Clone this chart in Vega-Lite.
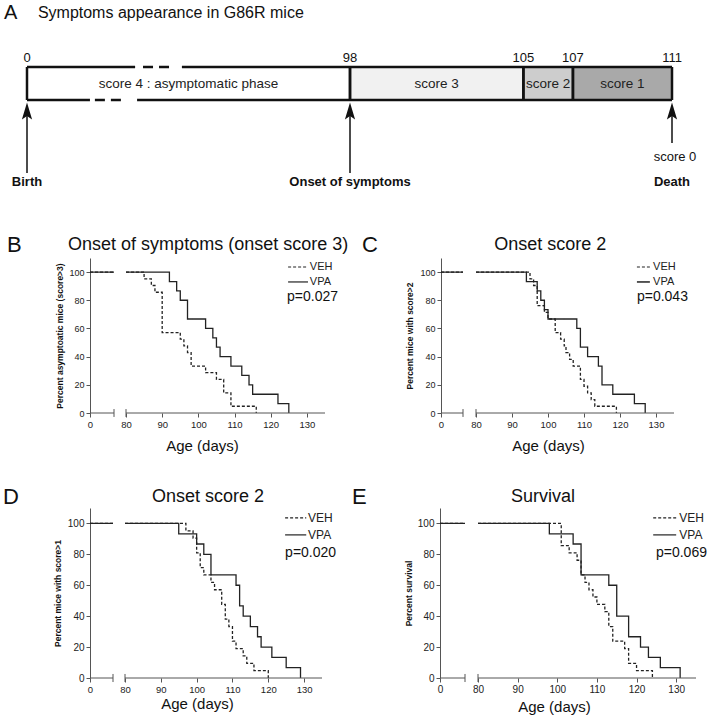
{
"$schema": "https://vega.github.io/schema/vega-lite/v6.json",
"width": 710, "height": 719,
"autosize": {"type": "none"},
"padding": 0,
"background": "white",
"config": {"font": "Liberation Sans", "view": {"stroke": null}},
"datasets": {
"phases": [
{"phase": "score 4 : asymptomatic phase", "start": 0, "end": 98},
{"phase": "score 3", "start": 98, "end": 105},
{"phase": "score 2", "start": 105, "end": 107},
{"phase": "score 1", "start": 107, "end": 111}
],
"borders": [
{"edge": "top", "part": "solid", "from": 0, "to": 32.8},
{"edge": "top", "part": "break", "from": 35.2, "to": 44},
{"edge": "top", "part": "solid", "from": 47, "to": 111},
{"edge": "bottom", "part": "solid", "from": 0, "to": 19.1},
{"edge": "bottom", "part": "break", "from": 20.6, "to": 28.8},
{"edge": "bottom", "part": "solid", "from": 33.4, "to": 111}
],
"stages": [{"day": 0}, {"day": 98}, {"day": 105}, {"day": 107}, {"day": 111}],
"milestones": [
{"day": 0, "event": "Birth"},
{"day": 98, "event": "Onset of symptoms"},
{"day": 111, "event": "Death"}
],
"axisparts": [{"from": 0, "to": 70}, {"from": 80, "to": 135}],
"breaks": [{"day": 70}, {"day": 80}],
"curves": [
{"panel":"B","group":"VEH","seg":"a","day":0,"pct":100},{"panel":"B","group":"VEH","seg":"a","day":70,"pct":100},
{"panel":"B","group":"VPA","seg":"a","day":0,"pct":100},{"panel":"B","group":"VPA","seg":"a","day":70,"pct":100},
{"panel":"B","group":"VEH","seg":"b","day":80,"pct":100},{"panel":"B","group":"VEH","seg":"b","day":85,"pct":95.2},{"panel":"B","group":"VEH","seg":"b","day":87,"pct":90.5},{"panel":"B","group":"VEH","seg":"b","day":88,"pct":85.7},{"panel":"B","group":"VEH","seg":"b","day":90,"pct":57.1},{"panel":"B","group":"VEH","seg":"b","day":95,"pct":52.4},{"panel":"B","group":"VEH","seg":"b","day":96,"pct":47.6},{"panel":"B","group":"VEH","seg":"b","day":97,"pct":42.9},{"panel":"B","group":"VEH","seg":"b","day":98,"pct":33.3},{"panel":"B","group":"VEH","seg":"b","day":102,"pct":28.6},{"panel":"B","group":"VEH","seg":"b","day":105,"pct":23.8},{"panel":"B","group":"VEH","seg":"b","day":107,"pct":14.3},{"panel":"B","group":"VEH","seg":"b","day":109,"pct":4.8},{"panel":"B","group":"VEH","seg":"b","day":116,"pct":0},
{"panel":"B","group":"VPA","seg":"b","day":80,"pct":100},{"panel":"B","group":"VPA","seg":"b","day":92,"pct":93.3},{"panel":"B","group":"VPA","seg":"b","day":94,"pct":86.7},{"panel":"B","group":"VPA","seg":"b","day":95,"pct":80},{"panel":"B","group":"VPA","seg":"b","day":97,"pct":66.7},{"panel":"B","group":"VPA","seg":"b","day":102,"pct":60},{"panel":"B","group":"VPA","seg":"b","day":104,"pct":53.3},{"panel":"B","group":"VPA","seg":"b","day":105,"pct":46.7},{"panel":"B","group":"VPA","seg":"b","day":106,"pct":40},{"panel":"B","group":"VPA","seg":"b","day":109,"pct":33.3},{"panel":"B","group":"VPA","seg":"b","day":112,"pct":26.7},{"panel":"B","group":"VPA","seg":"b","day":114,"pct":20},{"panel":"B","group":"VPA","seg":"b","day":115,"pct":13.3},{"panel":"B","group":"VPA","seg":"b","day":122,"pct":6.7},{"panel":"B","group":"VPA","seg":"b","day":125,"pct":0},
{"panel":"C","group":"VEH","seg":"a","day":0,"pct":100},{"panel":"C","group":"VEH","seg":"a","day":70,"pct":100},
{"panel":"C","group":"VPA","seg":"a","day":0,"pct":100},{"panel":"C","group":"VPA","seg":"a","day":70,"pct":100},
{"panel":"C","group":"VEH","seg":"b","day":80,"pct":100},{"panel":"C","group":"VEH","seg":"b","day":95,"pct":95.2},{"panel":"C","group":"VEH","seg":"b","day":96,"pct":90.5},{"panel":"C","group":"VEH","seg":"b","day":97,"pct":76.2},{"panel":"C","group":"VEH","seg":"b","day":99,"pct":71.4},{"panel":"C","group":"VEH","seg":"b","day":100,"pct":66.7},{"panel":"C","group":"VEH","seg":"b","day":102,"pct":57.1},{"panel":"C","group":"VEH","seg":"b","day":103.5,"pct":52.4},{"panel":"C","group":"VEH","seg":"b","day":104.5,"pct":47.6},{"panel":"C","group":"VEH","seg":"b","day":105,"pct":42.9},{"panel":"C","group":"VEH","seg":"b","day":106,"pct":38.1},{"panel":"C","group":"VEH","seg":"b","day":107,"pct":33.3},{"panel":"C","group":"VEH","seg":"b","day":109,"pct":23.8},{"panel":"C","group":"VEH","seg":"b","day":110,"pct":19},{"panel":"C","group":"VEH","seg":"b","day":111,"pct":14.3},{"panel":"C","group":"VEH","seg":"b","day":112,"pct":9.5},{"panel":"C","group":"VEH","seg":"b","day":113,"pct":4.8},{"panel":"C","group":"VEH","seg":"b","day":119,"pct":0},
{"panel":"C","group":"VPA","seg":"b","day":80,"pct":100},{"panel":"C","group":"VPA","seg":"b","day":94,"pct":93.3},{"panel":"C","group":"VPA","seg":"b","day":97,"pct":86.7},{"panel":"C","group":"VPA","seg":"b","day":98,"pct":80},{"panel":"C","group":"VPA","seg":"b","day":99,"pct":73.3},{"panel":"C","group":"VPA","seg":"b","day":100,"pct":66.7},{"panel":"C","group":"VPA","seg":"b","day":108,"pct":60},{"panel":"C","group":"VPA","seg":"b","day":109,"pct":46.7},{"panel":"C","group":"VPA","seg":"b","day":111,"pct":40},{"panel":"C","group":"VPA","seg":"b","day":114,"pct":33.3},{"panel":"C","group":"VPA","seg":"b","day":115,"pct":20},{"panel":"C","group":"VPA","seg":"b","day":118,"pct":13.3},{"panel":"C","group":"VPA","seg":"b","day":124,"pct":6.7},{"panel":"C","group":"VPA","seg":"b","day":127,"pct":0},
{"panel":"D","group":"VEH","seg":"a","day":0,"pct":100},{"panel":"D","group":"VEH","seg":"a","day":70,"pct":100},
{"panel":"D","group":"VPA","seg":"a","day":0,"pct":100},{"panel":"D","group":"VPA","seg":"a","day":70,"pct":100},
{"panel":"D","group":"VEH","seg":"b","day":80,"pct":100},{"panel":"D","group":"VEH","seg":"b","day":97,"pct":95.2},{"panel":"D","group":"VEH","seg":"b","day":99,"pct":90.5},{"panel":"D","group":"VEH","seg":"b","day":100,"pct":81},{"panel":"D","group":"VEH","seg":"b","day":101,"pct":71.4},{"panel":"D","group":"VEH","seg":"b","day":102,"pct":66.7},{"panel":"D","group":"VEH","seg":"b","day":104,"pct":61.9},{"panel":"D","group":"VEH","seg":"b","day":105,"pct":57.1},{"panel":"D","group":"VEH","seg":"b","day":107,"pct":47.6},{"panel":"D","group":"VEH","seg":"b","day":108,"pct":38.1},{"panel":"D","group":"VEH","seg":"b","day":109,"pct":33.3},{"panel":"D","group":"VEH","seg":"b","day":110,"pct":23.8},{"panel":"D","group":"VEH","seg":"b","day":111,"pct":19},{"panel":"D","group":"VEH","seg":"b","day":113,"pct":14.3},{"panel":"D","group":"VEH","seg":"b","day":114,"pct":9.5},{"panel":"D","group":"VEH","seg":"b","day":116,"pct":4.8},{"panel":"D","group":"VEH","seg":"b","day":120,"pct":0},
{"panel":"D","group":"VPA","seg":"b","day":80,"pct":100},{"panel":"D","group":"VPA","seg":"b","day":95,"pct":93.3},{"panel":"D","group":"VPA","seg":"b","day":100,"pct":86.7},{"panel":"D","group":"VPA","seg":"b","day":102,"pct":80},{"panel":"D","group":"VPA","seg":"b","day":104,"pct":66.7},{"panel":"D","group":"VPA","seg":"b","day":111,"pct":60},{"panel":"D","group":"VPA","seg":"b","day":112,"pct":46.7},{"panel":"D","group":"VPA","seg":"b","day":113,"pct":40},{"panel":"D","group":"VPA","seg":"b","day":115,"pct":33.3},{"panel":"D","group":"VPA","seg":"b","day":117,"pct":26.7},{"panel":"D","group":"VPA","seg":"b","day":118,"pct":20},{"panel":"D","group":"VPA","seg":"b","day":121,"pct":13.3},{"panel":"D","group":"VPA","seg":"b","day":125,"pct":6.7},{"panel":"D","group":"VPA","seg":"b","day":129,"pct":0},
{"panel":"E","group":"VEH","seg":"a","day":0,"pct":100},{"panel":"E","group":"VEH","seg":"a","day":70,"pct":100},
{"panel":"E","group":"VPA","seg":"a","day":0,"pct":100},{"panel":"E","group":"VPA","seg":"a","day":70,"pct":100},
{"panel":"E","group":"VEH","seg":"b","day":80,"pct":100},{"panel":"E","group":"VEH","seg":"b","day":101,"pct":85.7},{"panel":"E","group":"VEH","seg":"b","day":103,"pct":81},{"panel":"E","group":"VEH","seg":"b","day":105,"pct":76.2},{"panel":"E","group":"VEH","seg":"b","day":106,"pct":66.7},{"panel":"E","group":"VEH","seg":"b","day":107,"pct":61.9},{"panel":"E","group":"VEH","seg":"b","day":108,"pct":57.1},{"panel":"E","group":"VEH","seg":"b","day":109,"pct":52.4},{"panel":"E","group":"VEH","seg":"b","day":110,"pct":47.6},{"panel":"E","group":"VEH","seg":"b","day":112,"pct":42.9},{"panel":"E","group":"VEH","seg":"b","day":113,"pct":33.3},{"panel":"E","group":"VEH","seg":"b","day":114,"pct":23.8},{"panel":"E","group":"VEH","seg":"b","day":117,"pct":19},{"panel":"E","group":"VEH","seg":"b","day":118,"pct":9.5},{"panel":"E","group":"VEH","seg":"b","day":120,"pct":4.8},{"panel":"E","group":"VEH","seg":"b","day":124,"pct":0},
{"panel":"E","group":"VPA","seg":"b","day":80,"pct":100},{"panel":"E","group":"VPA","seg":"b","day":98,"pct":93.3},{"panel":"E","group":"VPA","seg":"b","day":104,"pct":86.7},{"panel":"E","group":"VPA","seg":"b","day":106,"pct":66.7},{"panel":"E","group":"VPA","seg":"b","day":113,"pct":60},{"panel":"E","group":"VPA","seg":"b","day":115,"pct":40},{"panel":"E","group":"VPA","seg":"b","day":118,"pct":26.7},{"panel":"E","group":"VPA","seg":"b","day":121,"pct":20},{"panel":"E","group":"VPA","seg":"b","day":123,"pct":13.3},{"panel":"E","group":"VPA","seg":"b","day":126,"pct":6.7},{"panel":"E","group":"VPA","seg":"b","day":131,"pct":0}
]
},
"resolve": {"scale": {"x": "independent", "y": "independent"}, "axis": {"x": "independent", "y": "independent"}},
"layer": [
{
"layer": [
{"data": {"name": "phases"}, "mark": {"type": "rect"},
 "encoding": {
  "x": {"field": "start", "type": "quantitative", "scale": {"domain": [0, 98, 111], "range": [27, 350, 672], "nice": false, "zero": false}, "axis": null},
  "x2": {"field": "end"},
  "y": {"datum": 17, "type": "quantitative", "scale": {"domain": [0, 140], "range": [50, 190], "nice": false, "zero": false}, "axis": null},
  "y2": {"datum": 50},
  "fill": {"field": "phase", "type": "nominal", "scale": {"domain": ["score 4 : asymptomatic phase", "score 3", "score 2", "score 1"], "range": ["#ffffff", "#f1f1f1", "#cdcdcd", "#a9a9a9"]}, "legend": null}
 }},
{"data": {"name": "borders"}, "transform": [{"filter": "datum.edge === 'top' && datum.part === 'solid'"}],
 "mark": {"type": "rule", "color": "#111", "strokeWidth": 2.5},
 "encoding": {"x": {"field": "from", "type": "quantitative", "axis": null}, "x2": {"field": "to"}, "y": {"datum": 17, "type": "quantitative", "axis": null}}},
{"data": {"name": "borders"}, "transform": [{"filter": "datum.edge === 'top' && datum.part === 'break'"}],
 "mark": {"type": "rule", "color": "#111", "strokeWidth": 2.5, "strokeDash": [10, 6]},
 "encoding": {"x": {"field": "from", "type": "quantitative", "axis": null}, "x2": {"field": "to"}, "y": {"datum": 17, "type": "quantitative", "axis": null}}},
{"data": {"name": "borders"}, "transform": [{"filter": "datum.edge === 'bottom' && datum.part === 'solid'"}],
 "mark": {"type": "rule", "color": "#111", "strokeWidth": 2.5},
 "encoding": {"x": {"field": "from", "type": "quantitative", "axis": null}, "x2": {"field": "to"}, "y": {"datum": 50, "type": "quantitative", "axis": null}}},
{"data": {"name": "borders"}, "transform": [{"filter": "datum.edge === 'bottom' && datum.part === 'break'"}],
 "mark": {"type": "rule", "color": "#111", "strokeWidth": 2.5, "strokeDash": [10, 6]},
 "encoding": {"x": {"field": "from", "type": "quantitative", "axis": null}, "x2": {"field": "to"}, "y": {"datum": 50, "type": "quantitative", "axis": null}}},
{"data": {"name": "phases"}, "mark": {"type": "rule", "color": "#111", "strokeWidth": 2.5},
 "encoding": {"x": {"field": "start", "type": "quantitative", "axis": null}, "y": {"datum": 17, "type": "quantitative", "axis": null}, "y2": {"datum": 50}}},
{"data": {"name": "phases"}, "mark": {"type": "rule", "color": "#111", "strokeWidth": 2.5},
 "encoding": {"x": {"field": "end", "type": "quantitative", "axis": null}, "y": {"datum": 17, "type": "quantitative", "axis": null}, "y2": {"datum": 50}}},
{"data": {"name": "phases"}, "transform": [{"calculate": "(datum.start + datum.end) / 2", "as": "mid"}],
 "mark": {"type": "text", "fontSize": 13.5, "color": "#222", "baseline": "middle", "align": "center"},
 "encoding": {"x": {"field": "mid", "type": "quantitative", "axis": null}, "y": {"datum": 34, "type": "quantitative", "axis": null}, "text": {"field": "phase"}}},
{"data": {"name": "stages"}, "mark": {"type": "text", "fontSize": 13, "color": "#111", "baseline": "middle", "align": "center"},
 "encoding": {"x": {"field": "day", "type": "quantitative", "axis": null}, "y": {"datum": 8, "type": "quantitative", "axis": null}, "text": {"field": "day"}}},
{"data": {"name": "milestones"}, "transform": [{"filter": "datum.event !== 'Death'"}],
 "mark": {"type": "rule", "color": "#111", "strokeWidth": 1.5},
 "encoding": {"x": {"field": "day", "type": "quantitative", "axis": null}, "y": {"datum": 62, "type": "quantitative", "axis": null}, "y2": {"datum": 123}}},
{"data": {"name": "milestones"}, "transform": [{"filter": "datum.event === 'Death'"}],
 "mark": {"type": "rule", "color": "#111", "strokeWidth": 1.5},
 "encoding": {"x": {"field": "day", "type": "quantitative", "axis": null}, "y": {"datum": 62, "type": "quantitative", "axis": null}, "y2": {"datum": 93}}},
{"data": {"name": "milestones"},
 "mark": {"type": "point", "shape": "M0,-1L0.6,1L0,0.6L-0.6,1Z", "size": 289, "filled": true, "color": "#111", "opacity": 1},
 "encoding": {"x": {"field": "day", "type": "quantitative", "axis": null}, "y": {"datum": 61, "type": "quantitative", "axis": null}}},
{"data": {"name": "milestones"}, "mark": {"type": "text", "fontSize": 13, "fontWeight": "bold", "color": "#111", "baseline": "middle", "align": "center"},
 "encoding": {"x": {"field": "day", "type": "quantitative", "axis": null}, "y": {"datum": 132, "type": "quantitative", "axis": null}, "text": {"field": "event"}}},
{"data": {"values": [{}]}, "mark": {"type": "text", "fontSize": 13, "color": "#111", "baseline": "middle", "align": "center", "dx": 3},
 "encoding": {"x": {"datum": 111, "type": "quantitative", "axis": null}, "y": {"datum": 107, "type": "quantitative", "axis": null}, "text": {"value": "score 0"}}},
{"data": {"values": [{}]}, "mark": {"type": "text", "fontSize": 20, "color": "#111", "baseline": "middle", "align": "left", "dx": -23},
 "encoding": {"x": {"datum": 0, "type": "quantitative", "axis": null}, "y": {"datum": -37, "type": "quantitative", "axis": null}, "text": {"value": "A"}}},
{"data": {"values": [{}]}, "mark": {"type": "text", "fontSize": 16, "color": "#111", "baseline": "middle", "align": "left"},
 "encoding": {"x": {"datum": 3.3, "type": "quantitative", "axis": null}, "y": {"datum": -37, "type": "quantitative", "axis": null}, "text": {"value": "Symptoms appearance in G86R mice"}}}
]
},
{
"layer": [
{"data": {"name": "curves"}, "transform": [{"filter": "datum.panel === 'B'"}],
 "mark": {"type": "line", "interpolate": "step-after", "strokeWidth": 1.3, "color": "#222"},
 "encoding": {
  "x": {"field": "day", "type": "quantitative", "scale": {"domain": [0, 70, 80, 135], "range": [90, 114, 126, 325], "nice": false, "zero": false},
        "axis": {"orient": "bottom", "offset": -306, "values": [0, 80, 90, 100, 110, 120, 130], "domain": false, "grid": false, "tickSize": 4, "tickColor": "#555", "labelFontSize": 9.5, "labelColor": "#222", "labelPadding": 2, "labelFlush": false, "labelOverlap": false, "title": "Age (days)", "titleFontSize": 15, "titleFontWeight": "normal", "titleColor": "#111", "titlePadding": 10, "titleX": 202}},
  "y": {"field": "pct", "type": "quantitative", "scale": {"domain": [0, 110], "range": [413, 258], "nice": false, "zero": false},
        "axis": {"orient": "left", "offset": -90, "values": [0, 20, 40, 60, 80, 100], "grid": false, "domainColor": "#555", "tickColor": "#555", "tickSize": 4, "labelFontSize": 9, "labelColor": "#222", "labelPadding": 2, "labelFlush": false, "labelOverlap": false, "title": "Percent asymptoatic mice (score>3)", "titleFontSize": 8.5, "titleFontWeight": "bold", "titleColor": "#111", "titlePadding": 4}},
  "detail": {"field": "seg"},
  "strokeDash": {"field": "group", "type": "nominal", "scale": {"domain": ["VEH", "VPA"], "range": [[3, 2], [1, 0]]}, "legend": null}
 }},
{"data": {"name": "axisparts"}, "mark": {"type": "rule", "color": "#555"},
 "encoding": {"x": {"field": "from", "type": "quantitative"}, "x2": {"field": "to"}, "y": {"datum": 0, "type": "quantitative"}}},
{"data": {"name": "breaks"}, "mark": {"type": "rule", "color": "#555"},
 "encoding": {"x": {"field": "day", "type": "quantitative"}, "y": {"datum": -2.8, "type": "quantitative"}, "y2": {"datum": 2.8}}},
{"data": {"values": [{}]}, "mark": {"type": "text", "fontSize": 18, "color": "#111", "align": "center", "baseline": "middle"},
 "encoding": {"x": {"datum": 102.7, "type": "quantitative"}, "y": {"datum": 119.2, "type": "quantitative"}, "text": {"value": "Onset of symptoms (onset score 3)"}}},
{"data": {"values": [{}]}, "mark": {"type": "text", "fontSize": 22, "color": "#111", "align": "left", "baseline": "middle", "dx": -83},
 "encoding": {"x": {"datum": 0, "type": "quantitative"}, "y": {"datum": 119.2, "type": "quantitative"}, "text": {"value": "B"}}},
{"data": {"values": [{}]}, "mark": {"type": "rule", "color": "#222", "strokeWidth": 1.2, "strokeDash": [3, 2]},
 "encoding": {"x": {"datum": 124.8, "type": "quantitative"}, "x2": {"datum": 130.3}, "y": {"datum": 103.6, "type": "quantitative"}}},
{"data": {"values": [{}]}, "mark": {"type": "rule", "color": "#222", "strokeWidth": 1.2},
 "encoding": {"x": {"datum": 124.8, "type": "quantitative"}, "x2": {"datum": 130.3}, "y": {"datum": 93, "type": "quantitative"}}},
{"data": {"values": [{}]}, "mark": {"type": "text", "fontSize": 11, "color": "#222", "align": "left", "baseline": "middle"},
 "encoding": {"x": {"datum": 130.8, "type": "quantitative"}, "y": {"datum": 103.6, "type": "quantitative"}, "text": {"value": "VEH"}}},
{"data": {"values": [{}]}, "mark": {"type": "text", "fontSize": 11, "color": "#222", "align": "left", "baseline": "middle"},
 "encoding": {"x": {"datum": 130.8, "type": "quantitative"}, "y": {"datum": 93, "type": "quantitative"}, "text": {"value": "VPA"}}},
{"data": {"values": [{}]}, "mark": {"type": "text", "fontSize": 14, "color": "#111", "align": "left", "baseline": "middle"},
 "encoding": {"x": {"datum": 124.5, "type": "quantitative"}, "y": {"datum": 82.3, "type": "quantitative"}, "text": {"value": "p=0.027"}}}
]
},
{
"layer": [
{"data": {"name": "curves"}, "transform": [{"filter": "datum.panel === 'C'"}],
 "mark": {"type": "line", "interpolate": "step-after", "strokeWidth": 1.3, "color": "#222"},
 "encoding": {
  "x": {"field": "day", "type": "quantitative", "scale": {"domain": [0, 70, 80, 135], "range": [441, 463, 476, 674], "nice": false, "zero": false},
        "axis": {"orient": "bottom", "offset": -306, "values": [0, 80, 90, 100, 110, 120, 130], "domain": false, "grid": false, "tickSize": 4, "tickColor": "#555", "labelFontSize": 9.5, "labelColor": "#222", "labelPadding": 2, "labelFlush": false, "labelOverlap": false, "title": "Age (days)", "titleFontSize": 15, "titleFontWeight": "normal", "titleColor": "#111", "titlePadding": 10, "titleX": 548}},
  "y": {"field": "pct", "type": "quantitative", "scale": {"domain": [0, 110], "range": [413, 258], "nice": false, "zero": false},
        "axis": {"orient": "left", "offset": -441, "values": [0, 20, 40, 60, 80, 100], "grid": false, "domainColor": "#555", "tickColor": "#555", "tickSize": 4, "labelFontSize": 9, "labelColor": "#222", "labelPadding": 2, "labelFlush": false, "labelOverlap": false, "title": "Percent mice with score>2", "titleFontSize": 8.5, "titleFontWeight": "bold", "titleColor": "#111", "titlePadding": 5}},
  "detail": {"field": "seg"},
  "strokeDash": {"field": "group", "type": "nominal", "scale": {"domain": ["VEH", "VPA"], "range": [[3, 2], [1, 0]]}, "legend": null}
 }},
{"data": {"name": "axisparts"}, "mark": {"type": "rule", "color": "#555"},
 "encoding": {"x": {"field": "from", "type": "quantitative"}, "x2": {"field": "to"}, "y": {"datum": 0, "type": "quantitative"}}},
{"data": {"name": "breaks"}, "mark": {"type": "rule", "color": "#555"},
 "encoding": {"x": {"field": "day", "type": "quantitative"}, "y": {"datum": -2.8, "type": "quantitative"}, "y2": {"datum": 2.8}}},
{"data": {"values": [{}]}, "mark": {"type": "text", "fontSize": 18, "color": "#111", "align": "center", "baseline": "middle"},
 "encoding": {"x": {"datum": 100.6, "type": "quantitative"}, "y": {"datum": 119.2, "type": "quantitative"}, "text": {"value": "Onset score 2"}}},
{"data": {"values": [{}]}, "mark": {"type": "text", "fontSize": 22, "color": "#111", "align": "left", "baseline": "middle", "dx": -79},
 "encoding": {"x": {"datum": 0, "type": "quantitative"}, "y": {"datum": 119.2, "type": "quantitative"}, "text": {"value": "C"}}},
{"data": {"values": [{}]}, "mark": {"type": "rule", "color": "#222", "strokeWidth": 1.2, "strokeDash": [3, 2]},
 "encoding": {"x": {"datum": 124.7, "type": "quantitative"}, "x2": {"datum": 128.3}, "y": {"datum": 103.6, "type": "quantitative"}}},
{"data": {"values": [{}]}, "mark": {"type": "rule", "color": "#222", "strokeWidth": 1.5},
 "encoding": {"x": {"datum": 124.7, "type": "quantitative"}, "x2": {"datum": 128.3}, "y": {"datum": 93, "type": "quantitative"}}},
{"data": {"values": [{}]}, "mark": {"type": "text", "fontSize": 11, "color": "#222", "align": "left", "baseline": "middle"},
 "encoding": {"x": {"datum": 129.2, "type": "quantitative"}, "y": {"datum": 103.6, "type": "quantitative"}, "text": {"value": "VEH"}}},
{"data": {"values": [{}]}, "mark": {"type": "text", "fontSize": 11, "color": "#222", "align": "left", "baseline": "middle"},
 "encoding": {"x": {"datum": 129.2, "type": "quantitative"}, "y": {"datum": 93, "type": "quantitative"}, "text": {"value": "VPA"}}},
{"data": {"values": [{}]}, "mark": {"type": "text", "fontSize": 14, "color": "#111", "align": "left", "baseline": "middle"},
 "encoding": {"x": {"datum": 124.7, "type": "quantitative"}, "y": {"datum": 82.3, "type": "quantitative"}, "text": {"value": "p=0.043"}}}
]
},
{
"layer": [
{"data": {"name": "curves"}, "transform": [{"filter": "datum.panel === 'D'"}],
 "mark": {"type": "line", "interpolate": "step-after", "strokeWidth": 1.3, "color": "#222"},
 "encoding": {
  "x": {"field": "day", "type": "quantitative", "scale": {"domain": [0, 70, 80, 135], "range": [90, 113, 125, 322], "nice": false, "zero": false},
        "axis": {"orient": "bottom", "offset": -41, "values": [0, 80, 90, 100, 110, 120, 130], "domain": false, "grid": false, "tickSize": 4, "tickColor": "#555", "labelFontSize": 9.5, "labelColor": "#222", "labelPadding": 2, "labelFlush": false, "labelOverlap": false, "title": "Age (days)", "titleFontSize": 15, "titleFontWeight": "normal", "titleColor": "#111", "titlePadding": 3, "titleX": 197}},
  "y": {"field": "pct", "type": "quantitative", "scale": {"domain": [0, 110], "range": [678, 508], "nice": false, "zero": false},
        "axis": {"orient": "left", "offset": -90, "values": [0, 20, 40, 60, 80, 100], "grid": false, "domainColor": "#555", "tickColor": "#555", "tickSize": 4, "labelFontSize": 10, "labelColor": "#222", "labelPadding": 2, "labelFlush": false, "labelOverlap": false, "title": "Percent mice with score>1", "titleFontSize": 8.5, "titleFontWeight": "bold", "titleColor": "#111", "titlePadding": 5}},
  "detail": {"field": "seg"},
  "strokeDash": {"field": "group", "type": "nominal", "scale": {"domain": ["VEH", "VPA"], "range": [[3, 2], [1, 0]]}, "legend": null}
 }},
{"data": {"name": "axisparts"}, "mark": {"type": "rule", "color": "#555"},
 "encoding": {"x": {"field": "from", "type": "quantitative"}, "x2": {"field": "to"}, "y": {"datum": 0, "type": "quantitative"}}},
{"data": {"name": "breaks"}, "mark": {"type": "rule", "color": "#555"},
 "encoding": {"x": {"field": "day", "type": "quantitative"}, "y": {"datum": -2.6, "type": "quantitative"}, "y2": {"datum": 2.6}}},
{"data": {"values": [{}]}, "mark": {"type": "text", "fontSize": 18, "color": "#111", "align": "center", "baseline": "middle"},
 "encoding": {"x": {"datum": 103.2, "type": "quantitative"}, "y": {"datum": 117.2, "type": "quantitative"}, "text": {"value": "Onset score 2"}}},
{"data": {"values": [{}]}, "mark": {"type": "text", "fontSize": 22, "color": "#111", "align": "left", "baseline": "middle", "dx": -87},
 "encoding": {"x": {"datum": 0, "type": "quantitative"}, "y": {"datum": 117.2, "type": "quantitative"}, "text": {"value": "D"}}},
{"data": {"values": [{}]}, "mark": {"type": "rule", "color": "#222", "strokeWidth": 1.2, "strokeDash": [3, 2]},
 "encoding": {"x": {"datum": 124.7, "type": "quantitative"}, "x2": {"datum": 130.6}, "y": {"datum": 103.6, "type": "quantitative"}}},
{"data": {"values": [{}]}, "mark": {"type": "rule", "color": "#222", "strokeWidth": 1.2},
 "encoding": {"x": {"datum": 124.7, "type": "quantitative"}, "x2": {"datum": 130.6}, "y": {"datum": 92.6, "type": "quantitative"}}},
{"data": {"values": [{}]}, "mark": {"type": "text", "fontSize": 12, "color": "#222", "align": "left", "baseline": "middle"},
 "encoding": {"x": {"datum": 131.1, "type": "quantitative"}, "y": {"datum": 103.6, "type": "quantitative"}, "text": {"value": "VEH"}}},
{"data": {"values": [{}]}, "mark": {"type": "text", "fontSize": 12, "color": "#222", "align": "left", "baseline": "middle"},
 "encoding": {"x": {"datum": 131.1, "type": "quantitative"}, "y": {"datum": 92.6, "type": "quantitative"}, "text": {"value": "VPA"}}},
{"data": {"values": [{}]}, "mark": {"type": "text", "fontSize": 14, "color": "#111", "align": "left", "baseline": "middle"},
 "encoding": {"x": {"datum": 124.7, "type": "quantitative"}, "y": {"datum": 80.9, "type": "quantitative"}, "text": {"value": "p=0.020"}}}
]
},
{
"layer": [
{"data": {"name": "curves"}, "transform": [{"filter": "datum.panel === 'E'"}],
 "mark": {"type": "line", "interpolate": "step-after", "strokeWidth": 1.3, "color": "#222"},
 "encoding": {
  "x": {"field": "day", "type": "quantitative", "scale": {"domain": [0, 70, 80, 135], "range": [440, 465, 478, 696], "nice": false, "zero": false},
        "axis": {"orient": "bottom", "offset": -41, "values": [0, 80, 90, 100, 110, 120, 130], "domain": false, "grid": false, "tickSize": 4, "tickColor": "#555", "labelFontSize": 10, "labelColor": "#222", "labelPadding": 2, "labelFlush": false, "labelOverlap": false, "title": "Age (days)", "titleFontSize": 15, "titleFontWeight": "normal", "titleColor": "#111", "titlePadding": 5, "titleX": 554}},
  "y": {"field": "pct", "type": "quantitative", "scale": {"domain": [0, 110], "range": [678, 508], "nice": false, "zero": false},
        "axis": {"orient": "left", "offset": -440, "values": [0, 20, 40, 60, 80, 100], "grid": false, "domainColor": "#555", "tickColor": "#555", "tickSize": 4, "labelFontSize": 10, "labelColor": "#222", "labelPadding": 2, "labelFlush": false, "labelOverlap": false, "title": "Percent survival", "titleFontSize": 8.5, "titleFontWeight": "bold", "titleColor": "#111", "titlePadding": 4}},
  "detail": {"field": "seg"},
  "strokeDash": {"field": "group", "type": "nominal", "scale": {"domain": ["VEH", "VPA"], "range": [[3, 2], [1, 0]]}, "legend": null}
 }},
{"data": {"name": "axisparts"}, "mark": {"type": "rule", "color": "#555"},
 "encoding": {"x": {"field": "from", "type": "quantitative"}, "x2": {"field": "to"}, "y": {"datum": 0, "type": "quantitative"}}},
{"data": {"name": "breaks"}, "mark": {"type": "rule", "color": "#555"},
 "encoding": {"x": {"field": "day", "type": "quantitative"}, "y": {"datum": -2.6, "type": "quantitative"}, "y2": {"datum": 2.6}}},
{"data": {"values": [{}]}, "mark": {"type": "text", "fontSize": 18, "color": "#111", "align": "center", "baseline": "middle"},
 "encoding": {"x": {"datum": 96.4, "type": "quantitative"}, "y": {"datum": 117.2, "type": "quantitative"}, "text": {"value": "Survival"}}},
{"data": {"values": [{}]}, "mark": {"type": "text", "fontSize": 22, "color": "#111", "align": "left", "baseline": "middle", "dx": -88},
 "encoding": {"x": {"datum": 0, "type": "quantitative"}, "y": {"datum": 117.2, "type": "quantitative"}, "text": {"value": "E"}}},
{"data": {"values": [{}]}, "mark": {"type": "rule", "color": "#222", "strokeWidth": 1.2, "strokeDash": [3, 2]},
 "encoding": {"x": {"datum": 124.2, "type": "quantitative"}, "x2": {"datum": 130}, "y": {"datum": 103.6, "type": "quantitative"}}},
{"data": {"values": [{}]}, "mark": {"type": "rule", "color": "#222", "strokeWidth": 1.2},
 "encoding": {"x": {"datum": 124.2, "type": "quantitative"}, "x2": {"datum": 130}, "y": {"datum": 92.6, "type": "quantitative"}}},
{"data": {"values": [{}]}, "mark": {"type": "text", "fontSize": 12, "color": "#222", "align": "left", "baseline": "middle"},
 "encoding": {"x": {"datum": 130.8, "type": "quantitative"}, "y": {"datum": 103.6, "type": "quantitative"}, "text": {"value": "VEH"}}},
{"data": {"values": [{}]}, "mark": {"type": "text", "fontSize": 12, "color": "#222", "align": "left", "baseline": "middle"},
 "encoding": {"x": {"datum": 130.8, "type": "quantitative"}, "y": {"datum": 92.6, "type": "quantitative"}, "text": {"value": "VPA"}}},
{"data": {"values": [{}]}, "mark": {"type": "text", "fontSize": 14, "color": "#111", "align": "left", "baseline": "middle"},
 "encoding": {"x": {"datum": 124.9, "type": "quantitative"}, "y": {"datum": 80.9, "type": "quantitative"}, "text": {"value": "p=0.069"}}}
]
}
]
}
